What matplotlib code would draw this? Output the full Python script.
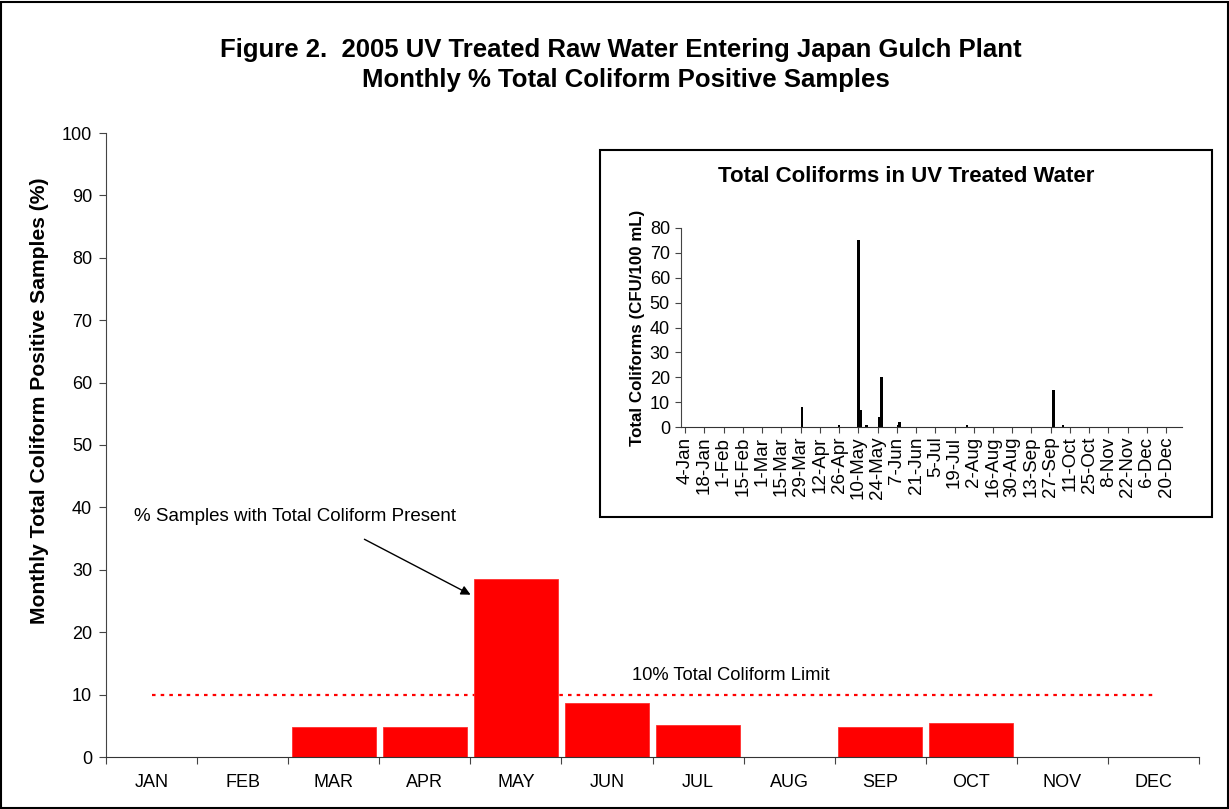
import datetime as dt
import numpy as np
import matplotlib.pyplot as plt
import matplotlib.dates as mdates
from matplotlib.patches import Rectangle

plt.rcParams['font.family'] = ['Liberation Sans', 'DejaVu Sans']

# monthly % of samples positive for total coliform
months = ["JAN", "FEB", "MAR", "APR", "MAY", "JUN",
          "JUL", "AUG", "SEP", "OCT", "NOV", "DEC"]
pct_positive = [0, 0, 4.8, 4.8, 28.6, 8.7, 5.1, 0, 4.8, 5.4, 0, 0]
limit_pct = 10

# daily total coliform counts (CFU/100 mL) in UV treated water, nonzero days
sample_dates = ["2005-03-30", "2005-04-26", "2005-05-10", "2005-05-12",
                "2005-05-16", "2005-05-25", "2005-05-27", "2005-06-08",
                "2005-06-09", "2005-07-28", "2005-09-29", "2005-10-06"]
cfu_counts = [8, 1, 75, 7, 1, 4, 20, 1, 2, 1, 15, 1]

W, H = 1229, 809
fig = plt.figure(figsize=(W / 100, H / 100), dpi=100)

# outer border around the whole figure
fig.patches.append(Rectangle((0.001, 0.001), 0.998, 0.997, transform=fig.transFigure,
                             fill=False, edgecolor='black', linewidth=1.5))

fig.text(621 / W, 1 - 50 / H, "Figure 2.  2005 UV Treated Raw Water Entering Japan Gulch Plant",
         ha='center', va='center', fontsize=18.5, fontweight='bold')
fig.text(626 / W, 1 - 80 / H, "Monthly % Total Coliform Positive Samples",
         ha='center', va='center', fontsize=18.5, fontweight='bold')

# ---- main monthly bar chart ----
ax = fig.add_axes([106 / W, 1 - 757 / H, 1093 / W, 624 / H])
x = np.arange(len(months))
ax.bar(x, pct_positive, width=0.92, color='#ff0000', edgecolor='#ff3030', linewidth=0.6, zorder=2)
ax.plot([x[0], x[-1]], [limit_pct, limit_pct], color='#ff0000', linewidth=1.6,
        linestyle=(0, (1.6, 2.3)), zorder=1)

ax.set_xlim(-0.5, 11.5)
ax.set_ylim(0, 100)
ax.set_yticks(np.arange(0, 101, 10))
ax.set_xticks(x)
ax.set_xticklabels(months)
ax.set_xticks(np.arange(-0.5, 12, 1), minor=True)
ax.tick_params(axis='x', which='major', length=0, pad=12, labelsize=13)
ax.tick_params(axis='x', which='minor', length=5, direction='out', width=0.8, color='#444444')
ax.tick_params(axis='y', length=5, direction='out', width=0.8, labelsize=13, pad=5, color='#444444')
for side in ['top', 'right']:
    ax.spines[side].set_visible(False)
ax.spines['left'].set_color('#444444')
ax.spines['bottom'].set_color('#333333')
ax.set_ylabel("Monthly Total Coliform Positive Samples (%)", fontsize=15.2,
              fontweight='bold', va='center')
ax.yaxis.set_label_coords(-0.0604, 0.5705)

ax.text(5.28, 13, "10% Total Coliform Limit", fontsize=13.2, va='center', ha='left')
ax.annotate("", xy=(3.53, 25.8), xytext=(2.31, 35.1),
            arrowprops=dict(arrowstyle='-|>', color='black', lw=1.0, mutation_scale=14))
ax.text(-0.19, 38.6, "% Samples with Total Coliform Present", fontsize=13.5, va='center', ha='left')

# ---- inset: daily counts ----
fig.patches.append(Rectangle((600 / W, 1 - 517 / H), 612 / W, 367 / H, transform=fig.transFigure,
                             facecolor='white', edgecolor='black', linewidth=1.5, zorder=3))

iax = fig.add_axes([681 / W, 1 - 427 / H, 501 / W, 199 / H], zorder=4)
iax.patch.set_alpha(0)
dates = [dt.datetime.strptime(d, "%Y-%m-%d") for d in sample_dates]
iax.bar(dates, cfu_counts, width=2.0, color='black')
iax.set_xlim(dt.datetime(2005, 1, 1), dt.datetime(2005, 12, 31, 12))
iax.set_ylim(0, 80)
iax.set_yticks(np.arange(0, 81, 10))
tick_days = [dt.datetime(2005, 1, 4) + dt.timedelta(days=14 * i) for i in range(26)]
iax.set_xticks(tick_days)
iax.xaxis.set_major_formatter(mdates.DateFormatter('%-d-%b'))
iax.tick_params(axis='x', rotation=90, labelsize=13.5, length=4, pad=3, color='#444444')
iax.tick_params(axis='y', labelsize=13, length=4, pad=4, color='#444444')
for side in ['top', 'right']:
    iax.spines[side].set_visible(False)
iax.spines['left'].set_color('#444444')
iax.spines['bottom'].set_color('#333333')
iax.set_ylabel("Total Coliforms (CFU/100 mL)", fontsize=12.2, fontweight='bold', labelpad=3)
fig.text(906 / W, 1 - 176 / H, "Total Coliforms in UV Treated Water",
         ha='center', va='center', fontsize=16, fontweight='bold', zorder=5)

fig.savefig("out.png", dpi=100)
